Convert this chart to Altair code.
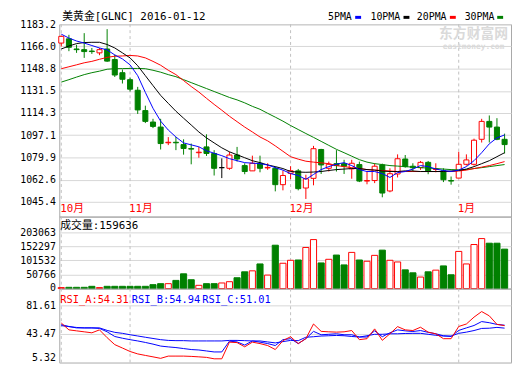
import altair as alt
import pandas as pd

# ---------------- data ----------------
opens  = [1168.6, 1171.9, 1164.0, 1163.5, 1162.4, 1161.0, 1164.0, 1155.8, 1145.6, 1140.2,
          1132.0, 1116.2, 1107.3, 1103.4, 1091.2, 1091.6, 1089.8, 1086.7, 1083.5, 1088.0,
          1082.9, 1071.9, 1071.4, 1081.7, 1073.5, 1069.4, 1075.3, 1071.7, 1071.4, 1058.7,
          1067.5, 1069.4, 1056.1, 1063.6, 1086.0, 1071.4, 1075.0, 1075.0, 1071.0, 1074.3,
          1061.5, 1061.9, 1074.0, 1053.8, 1067.0, 1078.6, 1073.0, 1071.9, 1076.0, 1070.5,
          1069.4, 1061.9, 1063.8, 1074.5, 1074.5, 1093.9, 1107.8, 1103.4, 1093.9]
highs  = [1174.5, 1175.0, 1167.3, 1176.3, 1164.8, 1164.8, 1179.4, 1159.6, 1148.1, 1141.8,
          1134.6, 1120.0, 1109.8, 1109.8, 1095.6, 1095.7, 1093.9, 1090.6, 1088.0, 1097.8,
          1085.5, 1079.1, 1084.2, 1088.0, 1075.3, 1081.2, 1081.2, 1075.3, 1072.7, 1069.7,
          1073.0, 1070.9, 1066.4, 1088.8, 1086.5, 1076.6, 1085.5, 1078.0, 1078.0, 1076.6,
          1068.9, 1075.3, 1075.0, 1071.4, 1082.2, 1081.7, 1075.3, 1077.1, 1077.1, 1075.3,
          1071.4, 1065.0, 1084.2, 1082.2, 1094.4, 1109.8, 1112.4, 1110.3, 1098.3]
lows   = [1166.0, 1162.3, 1161.0, 1157.1, 1160.2, 1159.2, 1154.0, 1142.3, 1137.2, 1131.0,
          1113.6, 1106.5, 1102.6, 1086.0, 1089.4, 1085.5, 1082.0, 1074.5, 1079.6, 1081.0,
          1065.8, 1063.8, 1070.2, 1076.6, 1066.8, 1069.4, 1068.3, 1070.2, 1053.5, 1054.3,
          1063.0, 1054.3, 1047.6, 1058.2, 1067.0, 1068.9, 1068.9, 1067.0, 1063.3, 1060.7,
          1059.0, 1059.9, 1048.9, 1052.8, 1064.3, 1071.9, 1068.9, 1070.2, 1066.8, 1068.3,
          1060.7, 1058.7, 1063.8, 1073.5, 1073.5, 1091.4, 1091.4, 1093.2, 1082.9]
closes = [1173.8, 1165.3, 1163.5, 1162.0, 1162.0, 1163.5, 1154.6, 1143.8, 1140.5, 1132.8,
          1116.7, 1107.8, 1103.9, 1090.6, 1091.6, 1091.2, 1086.8, 1086.3, 1083.9, 1082.9,
          1071.4, 1071.9, 1081.7, 1078.6, 1068.9, 1075.3, 1071.4, 1072.1, 1058.7, 1065.8,
          1069.5, 1055.6, 1063.3, 1086.6, 1074.0, 1074.5, 1073.5, 1073.0, 1075.3, 1061.5,
          1061.9, 1073.0, 1052.2, 1067.2, 1078.8, 1072.7, 1071.8, 1076.0, 1069.4, 1070.9,
          1062.5, 1061.5, 1074.5, 1077.9, 1093.2, 1107.8, 1103.4, 1093.9, 1089.8]
volumes = [3600, 4600, 4600, 4600, 8200, 3600, 8200, 8200, 8200, 8200,
           8200, 8200, 14200, 17800, 17800, 29600, 53400, 32000, 11800, 17800,
           17800, 20300, 24900, 39200, 60600, 64100, 89000, 48800, 156700, 91500,
           102200, 103300, 148500, 177000, 92600, 105800, 121100, 85500, 130700, 103300,
           98700, 120000, 138900, 102200, 96200, 67700, 57000, 41700, 60600, 66600,
           81900, 49900, 134300, 89000, 159200, 180600, 163900, 163900, 142500]
ma5  = [1175.5, 1172.5, 1170.2, 1168.6, 1166.7, 1164.8, 1163.3, 1159.4, 1156.3, 1151.7,
        1143.3, 1130.3, 1118.0, 1108.0, 1101.1, 1095.7, 1091.1, 1089.6, 1088.1, 1085.0,
        1083.1, 1081.2, 1078.9, 1077.3, 1075.8, 1075.4, 1075.0, 1074.0, 1071.9, 1070.0,
        1067.3, 1065.8, 1062.8, 1066.6, 1070.4, 1072.7, 1074.6, 1075.8, 1073.5, 1070.4,
        1068.9, 1068.9, 1067.3, 1064.3, 1068.1, 1068.9, 1070.8, 1073.5, 1072.7, 1070.8,
        1069.7, 1068.9, 1070.0, 1072.7, 1077.3, 1083.5, 1090.4, 1095.0, 1097.3]
ma10 = [1164.0, 1166.3, 1168.2, 1169.0, 1169.2, 1169.2, 1167.5, 1164.8, 1161.0, 1157.1,
        1151.0, 1143.3, 1135.6, 1128.0, 1121.8, 1115.7, 1110.3, 1105.0, 1099.6, 1095.0,
        1091.1, 1087.3, 1084.2, 1081.9, 1079.6, 1077.3, 1075.8, 1074.0, 1072.7, 1071.2,
        1068.9, 1068.5, 1068.3, 1068.5, 1068.9, 1069.7, 1070.4, 1070.8, 1071.2, 1071.2,
        1070.4, 1070.0, 1069.3, 1068.9, 1068.9, 1069.4, 1069.3, 1068.9, 1068.9, 1068.9,
        1068.9, 1069.3, 1069.7, 1070.8, 1072.7, 1075.0, 1077.3, 1080.4, 1083.5]
ma20 = [1148.7, 1150.2, 1151.7, 1153.3, 1154.4, 1156.0, 1157.5, 1158.4, 1158.6, 1159.0,
        1158.6, 1157.1, 1154.4, 1151.4, 1147.5, 1144.1, 1139.5, 1134.9, 1130.6, 1125.7,
        1121.0, 1116.5, 1111.8, 1107.6, 1103.4, 1099.6, 1095.7, 1092.7, 1088.8, 1084.6,
        1080.4, 1078.5, 1076.9, 1076.2, 1075.6, 1075.0, 1073.5, 1072.7, 1071.9, 1071.2,
        1070.4, 1070.0, 1069.7, 1069.3, 1068.9, 1068.9, 1068.9, 1068.9, 1068.9, 1068.9,
        1068.9, 1068.9, 1069.3, 1070.0, 1071.2, 1072.3, 1073.5, 1075.0, 1076.6]
ma30 = [1138.3, 1140.2, 1142.2, 1144.1, 1145.6, 1146.8, 1148.3, 1148.7, 1148.8, 1148.9,
        1148.9, 1148.7, 1147.5, 1146.0, 1144.1, 1142.5, 1140.2, 1137.9, 1135.6, 1133.3,
        1131.0, 1128.7, 1126.4, 1124.5, 1122.2, 1119.5, 1117.2, 1114.1, 1111.1, 1108.0,
        1104.6, 1101.5, 1098.4, 1095.4, 1092.3, 1089.2, 1086.1, 1083.5, 1080.8, 1078.1,
        1076.2, 1075.0, 1074.3, 1073.5, 1073.1, 1072.7, 1072.3, 1071.9, 1071.6, 1071.2,
        1070.8, 1070.4, 1070.2, 1070.4, 1071.2, 1071.9, 1072.7, 1073.5, 1074.3]
rsi_a = [57.8, 48.7, 47.4, 46.1, 44.8, 48.7, 38.3, 29.1, 24.6, 20.0,
         16.8, 14.8, 12.9, 10.9, 13.9, 13.9, 13.9, 13.5, 12.9, 12.2,
         10.3, 10.3, 32.4, 31.8, 26.2, 32.4, 30.5, 27.9, 22.6, 34.4,
         39.6, 30.5, 37.0, 56.5, 46.7, 46.1, 45.7, 46.1, 47.8, 35.7,
         37.0, 50.0, 34.8, 43.5, 53.0, 48.7, 47.8, 52.2, 45.7, 43.5,
         37.0, 37.0, 53.2, 56.5, 65.6, 73.0, 67.3, 56.0, 54.3]
rsi_b = [55.6, 53.2, 51.3, 51.3, 51.3, 50.6, 46.1, 39.9, 37.6, 35.7,
         34.0, 32.0, 29.8, 27.2, 26.1, 25.2, 23.9, 22.6, 22.0, 20.7,
         19.4, 19.4, 33.7, 32.7, 28.5, 34.0, 32.4, 30.5, 27.9, 35.7,
         37.0, 30.5, 37.0, 46.7, 42.2, 42.8, 43.5, 42.2, 42.2, 39.2,
         39.2, 47.4, 39.6, 44.8, 48.7, 47.4, 46.5, 47.8, 45.4, 43.5,
         40.9, 39.9, 48.0, 51.3, 54.5, 59.7, 58.2, 55.9, 54.9]
rsi_c = [54.3, 53.0, 51.9, 51.3, 51.3, 51.3, 48.0, 45.4, 44.1, 42.2,
         40.6, 38.9, 37.3, 35.7, 34.7, 34.4, 34.4, 34.0, 34.0, 34.0,
         34.0, 34.0, 34.7, 34.7, 34.4, 34.0, 34.0, 32.7, 31.4, 33.1,
         34.7, 34.4, 38.9, 39.6, 40.5, 40.9, 41.3, 40.9, 39.9, 39.2,
         40.9, 42.8, 42.8, 43.5, 43.5, 43.9, 44.1, 44.1, 42.8, 41.5,
         40.5, 40.5, 44.1, 45.7, 47.8, 50.6, 50.9, 52.0, 51.0]

month_starts = [0, 9, 30, 52]
month_names = ["10月", "11月", "12月", "1月"]
price_ticks = [1045.4, 1062.6, 1079.9, 1097.1, 1114.3, 1131.5, 1148.8, 1166.0, 1183.2]
volume_ticks = [0, 50766, 101532, 152297, 203063]
rsi_ticks = [5.32, 43.47, 81.61]
title_text = "美黄金[GLNC] 2016-01-12"
legend_names = ["5PMA", "10PMA", "20PMA", "30PMA"]
volume_header = "成交量:159636"
rsi_headers = ["RSI_A:54.31", "RSI_B:54.94", "RSI_C:51.01"]

# ---------------- styling ----------------
RED, GREEN, BLUE, BLACK = "#ff0000", "#008000", "#0000ff", "#000000"
FONT = "DejaVu Sans Mono, Noto Sans CJK SC"
W = 458
XDOM = [-0.26, 58.84]
GRID = "#d6d6d6"
DASH = "#c0c0c0"

rows = []
for i in range(len(closes)):
    o, c = opens[i], closes[i]
    d = "up" if c > o else ("down" if c < o else "flat")
    rows.append(dict(i=i, xl=i - 0.33, xr=i + 0.33, vl=i - 0.4, vr=i + 0.4,
                     open=o, close=c, high=highs[i], low=lows[i], vol=volumes[i],
                     dir=d, vdir=("down" if d == "down" else "up"),
                     ma5=ma5[i], ma10=ma10[i], ma20=ma20[i], ma30=ma30[i],
                     ra=rsi_a[i], rb=rsi_b[i], rc=rsi_c[i]))
df = pd.DataFrame(rows)
mdf = pd.DataFrame({"i": month_starts, "name": month_names})

xs = alt.Scale(domain=XDOM, nice=False, zero=False)

stroke_scale = alt.Scale(domain=["up", "down", "flat"], range=[RED, GREEN, BLACK])
fill_scale = alt.Scale(domain=["up", "down", "flat"], range=["#ffffff", GREEN, BLACK])

# main panel: 195 px tall, the lower 15 px hold the month labels
MAIN_H = 195
PRICE_LO, PRICE_HI = 1045.4, 1183.2
price_bottom = PRICE_LO - (MAIN_H - 180) * (PRICE_HI - PRICE_LO) / 180
pys = alt.Scale(domain=[price_bottom, PRICE_HI], nice=False, zero=False)
price_axis = alt.Axis(values=price_ticks, format=".1f", title=None, labelFlush=False,
                      labelOverlap=False, gridColor=GRID, labelPadding=4)

base = alt.Chart(df)

def MX(field):
    return alt.X(f"{field}:Q", scale=xs, axis=None)

def PY(field):
    return alt.Y(f"{field}:Q", scale=pys, axis=price_axis)

m_rules = alt.Chart(mdf).mark_rule(strokeDash=[3, 3], color=DASH).encode(
    x=MX("i"), y=alt.value(0), y2=alt.value(180))
m_labels = alt.Chart(mdf).mark_text(
    align="left", baseline="middle", font=FONT, fontSize=11, color=RED, dx=-1
).encode(x=MX("i"), y=alt.value(187.5), text="name:N")
wicks = base.mark_rule(strokeWidth=1).encode(
    x=MX("i"), y=PY("low"), y2="high:Q",
    stroke=alt.Stroke("dir:N", scale=stroke_scale, legend=None))
bodies = base.mark_rect(strokeWidth=1).encode(
    x=MX("xl"), x2="xr:Q", y=PY("open"), y2="close:Q",
    fill=alt.Fill("dir:N", scale=fill_scale, legend=None),
    stroke=alt.Stroke("dir:N", scale=stroke_scale, legend=None))

def ma_line(field, color):
    return base.mark_line(color=color, strokeWidth=1).encode(x=MX("i"), y=PY(field))

def label(text, x, y, color=BLACK, size=11, align="left", weight="normal"):
    return alt.Chart(pd.DataFrame({"t": [text]})).mark_text(
        align=align, baseline="middle", font=FONT, fontSize=size, color=color,
        fontWeight=weight).encode(x=alt.value(x), y=alt.value(y), text="t:N")

def swatch(x, color):
    return alt.Chart(pd.DataFrame({"t": [0]})).mark_rule(color=color, strokeWidth=3).encode(
        x=alt.value(x), x2=alt.value(x + 6), y=alt.value(-7))

legend_layers = [
    label(legend_names[0], 272.5, -7, size=10), swatch(300, BLUE),
    label(legend_names[1], 315.5, -7, size=10), swatch(349, BLACK),
    label(legend_names[2], 362.5, -7, size=10), swatch(396, RED),
    label(legend_names[3], 411, -7, size=10), swatch(444, GREEN),
]

main = alt.layer(
    m_rules, wicks, bodies,
    ma_line("ma30", GREEN), ma_line("ma20", RED), ma_line("ma10", BLACK), ma_line("ma5", BLUE),
    m_labels,
    label("东方财富网", 420, 10, color="#dadada", size=14, align="center", weight="bold"),
    label("eastmoney.com", 420, 23, color="#dadada", size=8, align="center", weight="bold"),
    label(title_text, 3, -7),
    *legend_layers,
).properties(width=W, height=MAIN_H)

# ---------------- volume panel ----------------
vys = alt.Scale(domain=[0, 260063], nice=False, zero=False)
vol_axis = alt.Axis(values=volume_ticks, format="d", title=None, labelFlush=True,
                    labelFlushOffset=4, labelOverlap=False, gridColor=GRID, labelPadding=4)
v_rules = alt.Chart(mdf).mark_rule(strokeDash=[3, 3], color=DASH).encode(
    x=alt.X("i:Q", scale=xs, axis=None))
vbars = base.mark_rect(strokeWidth=1).encode(
    x=alt.X("vl:Q", scale=xs, axis=None), x2="vr:Q",
    y=alt.Y("vol:Q", scale=vys, axis=vol_axis), y2=alt.datum(0),
    fill=alt.Fill("vdir:N", scale=alt.Scale(domain=["up", "down"], range=["#ffffff", GREEN]), legend=None),
    stroke=alt.Stroke("vdir:N", scale=alt.Scale(domain=["up", "down"], range=[RED, GREEN]), legend=None))
vol = alt.layer(v_rules, vbars, label(volume_header, 1, 10)).properties(width=W, height=73)

# ---------------- RSI panel ----------------
rys = alt.Scale(domain=[5.32, 103.46], nice=False, zero=False)
rsi_axis = alt.Axis(values=rsi_ticks, format=".2f", title=None, labelFlush=True,
                    labelOverlap=False, gridColor=GRID, labelPadding=4)
r_rules = alt.Chart(mdf).mark_rule(strokeDash=[3, 3], color=DASH).encode(
    x=alt.X("i:Q", scale=xs, axis=None))

def rsi_line(field, color):
    return base.mark_line(color=color, strokeWidth=1).encode(
        x=alt.X("i:Q", scale=xs, axis=None),
        y=alt.Y(f"{field}:Q", scale=rys, axis=rsi_axis))

rsi = alt.layer(
    r_rules, rsi_line("rc", BLUE), rsi_line("rb", BLUE), rsi_line("ra", RED),
    label(rsi_headers[0], 1, 12, color=RED, size=10.5),
    label(rsi_headers[1], 73.5, 12, color=BLUE, size=10.5),
    label(rsi_headers[2], 145, 12, color=BLUE, size=10.5),
).properties(width=W, height=75)

chart = alt.vconcat(main, vol, rsi, spacing=0, bounds="flush").properties(
    padding={"left": 11, "top": 0, "right": 0, "bottom": 0}
).configure_view(stroke="#a8a8a8", strokeWidth=1).configure_axis(
    domain=False, ticks=False, labelFont=FONT, labelFontSize=10, labelColor=BLACK,
    gridColor=GRID, labelOverlap=False
).configure_concat(spacing=0)

chart.save("out.html", embed_options={"renderer": "svg", "actions": False})
